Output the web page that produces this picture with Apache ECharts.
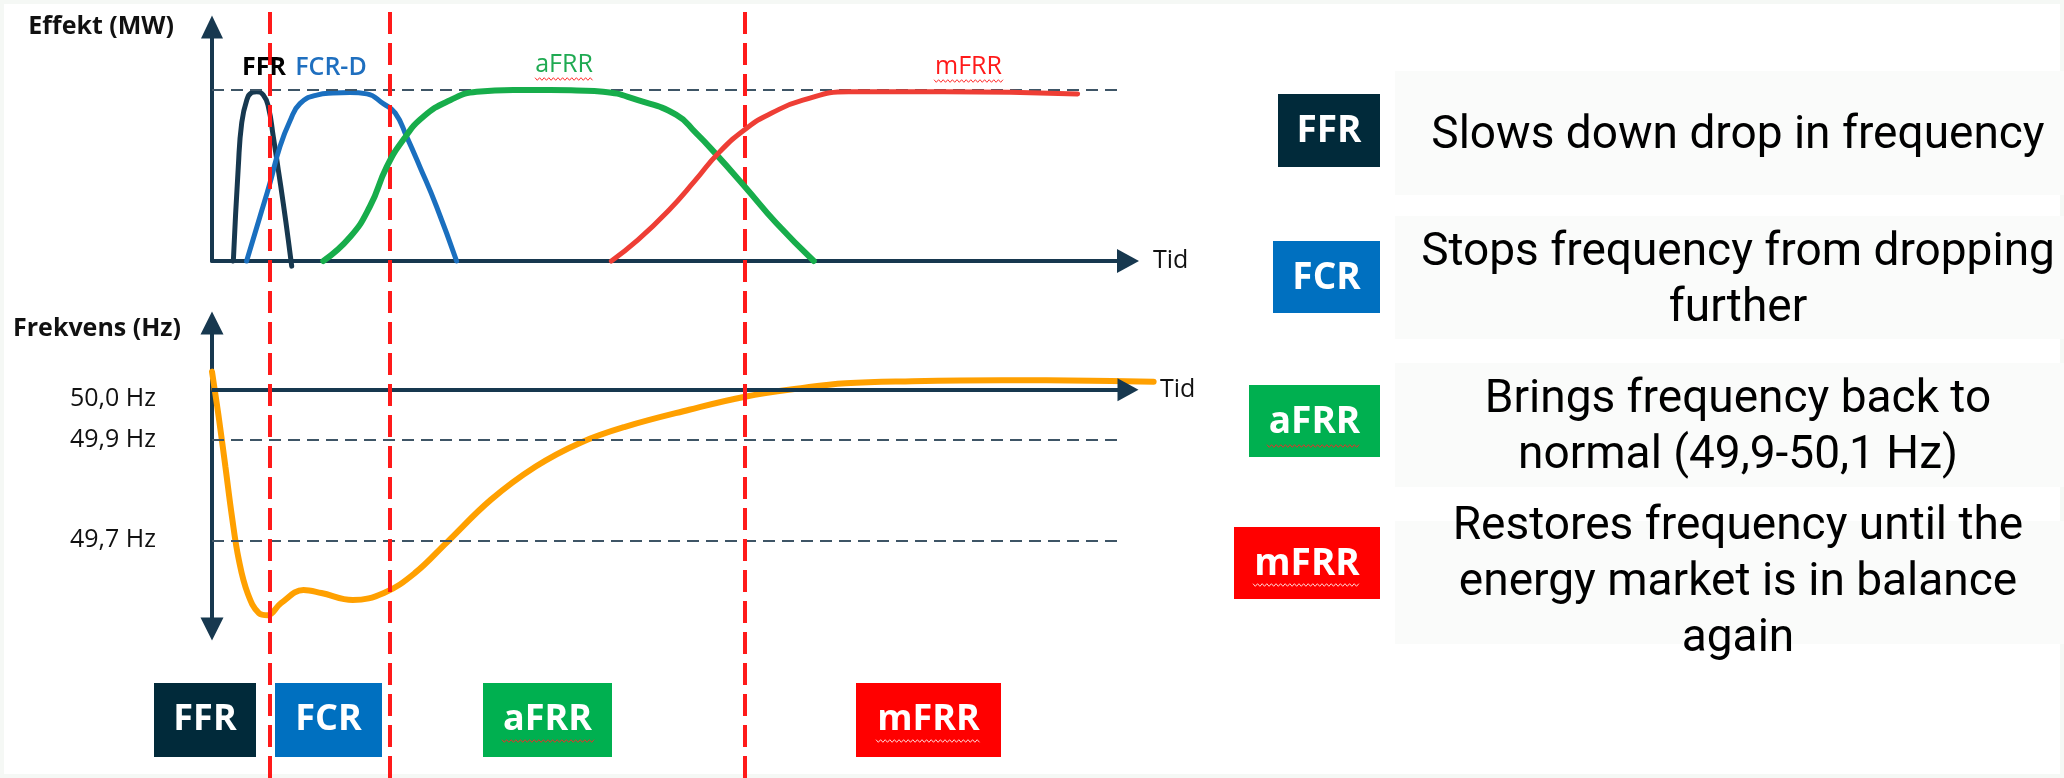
<!DOCTYPE html>
<html>
<head>
<meta charset="utf-8">
<script src="https://cdn.jsdelivr.net/npm/echarts@6/dist/echarts.min.js"></script>
<style>
html,body{margin:0;padding:0;background:#ffffff;}
#chart{width:2064px;height:778px;}
</style>
</head>
<body>
<div id="chart"></div>
<script>
// ---------------- DATA ----------------
// time in arbitrary units (0..100 along the "Tid" axis), power normalised to 1 = full activation
const ffrPower  = [[2.33,0],[2.87,0.55],[3.24,0.805],[3.79,0.94],[4.33,0.984],[4.88,0.99],[5.6,0.971],[6.15,0.902],[6.69,0.727],[7.24,0.532],[7.78,0.337],[8.33,0.123],[8.7,-0.03]];
const fcrPower  = [[3.78,0],[5.24,0.26],[6.33,0.456],[7.42,0.67],[8.52,0.82],[9.6,0.92],[11.43,0.97],[13.2,0.982],[15.07,0.985],[16.9,0.977],[18.7,0.92],[20,0.865],[21.25,0.727],[22.7,0.55],[24.5,0.32],[26.7,0.0]];
const afrrPower = [[12.15,0],[15.07,0.14],[17.25,0.32],[19.07,0.55],[20.9,0.71],[23.1,0.845],[26.0,0.94],[28.9,0.99],[32.9,1.0],[36.9,1.0],[39.8,0.997],[42.7,0.99],[46.5,0.94],[50.7,0.854],[52.8,0.75],[54.9,0.632],[58.2,0.433],[61.6,0.222],[65.7,0.0]];
const mfrrPower = [[43.6,0],[46.5,0.123],[49.9,0.298],[52.8,0.474],[55.3,0.632],[58.4,0.778],[61.1,0.865],[64.5,0.94],[69.5,0.99],[79.9,0.99],[94.5,0.977]];
const frequency = [[0,50.036],[0.73,49.946],[1.46,49.847],[2.18,49.747],[2.93,49.661],[3.9,49.594],[5.13,49.555],[6.09,49.551],[7.53,49.575],[9.99,49.601],[11.94,49.595],[15.36,49.581],[18.77,49.595],[22.16,49.635],[25.59,49.695],[30.46,49.781],[35.34,49.847],[40.17,49.894],[45.09,49.926],[52.1,49.96],[58.19,49.986],[64.29,50.003],[69.16,50.013],[76.47,50.017],[86.22,50.019],[95.96,50.018],[102.8,50.016]];
const fullPower = 1;
const nominalFreq = 50.0;
const freqTickValues = [50.0, 49.9, 49.7];
const freqBandLines = [49.9, 49.7];
const phaseBoundaries = [6.28, 19.4, 58.2];
const curveNames = ['FFR', 'FCR-D', 'aFRR', 'mFRR'];
const curveLabelPos = [[5.68, 1.129], [12.99, 1.129], [38.43, 1.146], [82.59, 1.137]];
const boxLabels = ['FFR', 'FCR', 'aFRR', 'mFRR'];
const boxColors = ['#012a3a', '#0070c0', '#00b050', '#ff0000'];
const descriptions = [
  'Slows down drop in frequency',
  'Stops frequency from dropping\nfurther',
  'Brings frequency back to\nnormal (49,9-50,1 Hz)',
  'Restores frequency until the\nenergy market is in balance\nagain'
];
const axisTitles = ['Effekt (MW)', 'Frekvens (Hz)', 'Tid'];

// ---------------- STYLE / LAYOUT ----------------
const axisColor = '#17384f';
const curveColors = ['#17384f', '#1a6fbf', '#17ad4b', '#ee3e35'];
const labelColors = ['#000000', '#1f6fbf', '#1faa52', '#ff1a1a'];
const labelWeights = ['bold', 600, 'normal', 'normal'];
const FONT = '"Open Sans", "Noto Sans", sans-serif';
const dashGray = {color: '#3e5566', width: 2, type: [12, 7]};

function squiggle(x0, x1, y, color) {
  const pts = [];
  let up = true;
  for (let x = x0; x <= x1; x += 2.3) { pts.push([x, y + (up ? -1.3 : 1.3)]); up = !up; }
  return {type: 'polyline', silent: true, z: 50, shape: {points: pts}, style: {stroke: color, lineWidth: 1, fill: null}};
}

const graphics = [];
graphics.push({type: 'rect', silent: true, z: 0, shape: {x: 0, y: 0, width: 2064, height: 778}, style: {fill: null, stroke: '#f5f8f5', lineWidth: 8}});

// bottom phase boxes
const bottomBoxes = [[154, 102], [275, 107], [483, 129], [856, 145]];
bottomBoxes.forEach((b, i) => {
  graphics.push({type: 'rect', silent: true, z: 5, shape: {x: b[0], y: 683, width: b[1], height: 74}, style: {fill: boxColors[i]}});
  graphics.push({type: 'text', silent: true, z: 6, x: b[0] + b[1] / 2, y: 720,
    style: {text: boxLabels[i], fill: '#ffffff', font: 'bold 36px ' + FONT, align: 'center', verticalAlign: 'middle'}});
});
graphics.push(squiggle(502, 595, 741, '#e8302a'));
graphics.push(squiggle(876, 981, 741, '#ffd6d6'));

// right-hand explanation panel
const rowBg = [[71, 124], [216, 123], [363, 124], [521, 123]];
const squares = [[1278, 94, 102, 73], [1273, 241, 107, 72], [1249, 385, 131, 72], [1234, 527, 146, 72]];
const textMid = [136, 281, 428, 583];
rowBg.forEach((r, i) => {
  graphics.push({type: 'rect', silent: true, z: 3, shape: {x: 1395, y: r[0], width: 669, height: r[1]}, style: {fill: '#fafbfa'}});
});
squares.forEach((s, i) => {
  graphics.push({type: 'rect', silent: true, z: 5, shape: {x: s[0], y: s[1], width: s[2], height: s[3]}, style: {fill: boxColors[i]}});
  graphics.push({type: 'text', silent: true, z: 6, x: s[0] + s[2] / 2, y: s[1] + s[3] / 2 + 1,
    style: {text: boxLabels[i], fill: '#ffffff', font: 'bold 37px ' + FONT, align: 'center', verticalAlign: 'middle'}});
  graphics.push({type: 'text', silent: true, z: 6, x: 1738, y: textMid[i],
    style: {text: descriptions[i], fill: '#000000', font: '46px Roboto, "Noto Sans", sans-serif', lineHeight: 56, align: 'center', verticalAlign: 'middle'}});
});
graphics.push(squiggle(1267, 1361, 446, '#e8302a'));
graphics.push(squiggle(1253, 1361, 585, '#ffd6d6'));
// spell-check squiggles under the chart labels
graphics.push(squiggle(535, 594, 79, '#ff3030'));
graphics.push(squiggle(934, 1004, 81, '#ff3030'));

const powerSeries = [ffrPower, fcrPower, afrrPower, mfrrPower].map((d, i) => ({
  type: 'line', name: curveNames[i], xAxisIndex: 0, yAxisIndex: 0, data: d,
  smooth: 0.5, symbol: 'none', clip: false, z: 3 + i,
  lineStyle: {color: curveColors[i], width: i === 2 ? 6 : 5, cap: 'round'},
  silent: true,
  markPoint: {
    silent: true, symbol: 'circle', symbolSize: 1, itemStyle: {color: 'rgba(0,0,0,0)'},
    data: [{name: curveNames[i], coord: curveLabelPos[i],
      label: {show: true, position: 'inside', formatter: curveNames[i], color: labelColors[i],
        fontSize: 25, fontWeight: labelWeights[i], fontFamily: FONT}}]
  }
}));

const option = {
  animation: false,
  backgroundColor: '#ffffff',
  textStyle: {fontFamily: FONT},
  graphic: graphics,
  grid: [
    {left: 212, right: 936, top: 27, bottom: 517},
    {left: 212, right: 890.2, top: 323, bottom: 149},
    {left: 212, right: 936, top: 10, bottom: 0}
  ],
  xAxis: [
    {gridIndex: 0, type: 'value', min: 0, max: 100,
      axisLine: {show: true, symbol: ['none', 'triangle'], symbolSize: [24, 22], lineStyle: {color: axisColor, width: 4}},
      axisTick: {show: false}, axisLabel: {show: false}, splitLine: {show: false},
      name: axisTitles[2], nameLocation: 'end', nameGap: 25,
      nameTextStyle: {color: '#111111', fontSize: 25, fontFamily: FONT, verticalAlign: 'middle', padding: [0, 0, 6, 0]}},
    {gridIndex: 1, type: 'value', min: 0, max: 105, show: false},
    {gridIndex: 2, type: 'value', min: 0, max: 100, show: false}
  ],
  yAxis: [
    {gridIndex: 0, type: 'value', min: 0, max: 1.368,
      axisLine: {show: true, symbol: ['none', 'triangle'], symbolSize: [22, 23], lineStyle: {color: axisColor, width: 4}},
      axisTick: {show: false}, axisLabel: {show: false}, splitLine: {show: false},
      name: axisTitles[0], nameLocation: 'end', nameGap: 0,
      nameTextStyle: {color: '#111111', fontSize: 25, fontWeight: 'bold', fontFamily: FONT, align: 'right', verticalAlign: 'middle', padding: [0, 38, 0, 0]}},
    {gridIndex: 1, type: 'value', min: 49.5234, max: 50.1328,
      axisLine: {show: true, symbol: ['triangle', 'triangle'], symbolSize: [23, 23], lineStyle: {color: axisColor, width: 4}},
      axisTick: {show: false}, splitLine: {show: false},
      axisLabel: {show: true, customValues: freqTickValues, margin: 56, color: '#111111', fontSize: 25, fontFamily: FONT,
        formatter: function (v) {
          const s = v.toFixed(1).replace('.', ',') + ' Hz';
          return Math.abs(v - nominalFreq) < 1e-6 ? '{lo|' + s + '}' : s;
        },
        rich: {lo: {padding: [18, 0, 0, 0], fontSize: 25, color: '#111111', fontFamily: FONT}}},
      name: axisTitles[1], nameLocation: 'end', nameGap: -6,
      nameTextStyle: {color: '#111111', fontSize: 25, fontWeight: 'bold', fontFamily: FONT, align: 'right', verticalAlign: 'middle', padding: [0, 31, 0, 0]}},
    {gridIndex: 2, type: 'value', min: 0, max: 1, show: false}
  ],
  series: powerSeries.concat([
    // full-activation reference line
    {type: 'line', xAxisIndex: 0, yAxisIndex: 0, data: [], z: 8, silent: true,
      markLine: {silent: true, symbol: 'none', label: {show: false}, lineStyle: dashGray,
        data: [[{coord: [0, fullPower]}, {coord: [99.3, fullPower]}]]}},
    // frequency reference lines
    {type: 'line', xAxisIndex: 1, yAxisIndex: 1, data: [], z: 2, silent: true,
      markLine: {silent: true, symbol: 'none', label: {show: false},
        data: [
          [{coord: [0, nominalFreq], symbol: 'none', lineStyle: {color: axisColor, width: 4, type: 'solid'},
            label: {show: true, position: 'end', formatter: axisTitles[2], distance: 32, color: '#111111', fontSize: 25, fontFamily: FONT}},
           {coord: [100, nominalFreq], symbol: 'triangle', symbolSize: [23, 21]}]
        ].concat(freqBandLines.map(v => [
          {coord: [0, v], symbol: 'none', lineStyle: dashGray},
          {coord: [99.3, v], symbol: 'none'}
        ]))}},
    // frequency curve
    {type: 'line', name: 'Frekvens', xAxisIndex: 1, yAxisIndex: 1, data: frequency, smooth: 0.4, symbol: 'none', z: 4, silent: true,
      lineStyle: {color: '#ffa000', width: 6, cap: 'round'}},
    // phase boundaries
    {type: 'line', xAxisIndex: 2, yAxisIndex: 2, data: [], z: 20, silent: true,
      markLine: {silent: true, symbol: 'none', label: {show: false},
        lineStyle: {color: '#ff1a1a', width: 4, type: [22, 9]},
        data: phaseBoundaries.map(x => ({xAxis: x}))}}
  ])
};

const chart = echarts.init(document.getElementById('chart'), null, {renderer: 'canvas'});
chart.setOption(option);
</script>
</body>
</html>
